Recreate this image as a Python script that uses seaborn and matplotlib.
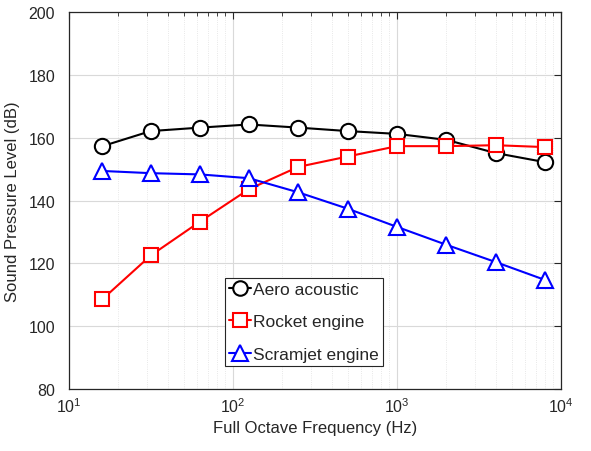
import matplotlib
matplotlib.use("Agg")
import matplotlib.pyplot as plt
import seaborn as sns
import numpy as np
from matplotlib.ticker import LogLocator, NullFormatter, MultipleLocator

freq = [16, 31.5, 63, 125, 250, 500, 1000, 2000, 4000, 8000]
aero = [157.3, 162.1, 163.2, 164.2, 163.2, 162.1, 161.2, 159.3, 155.1, 152.2]
rocket = [108.6, 122.5, 133.3, 143.6, 150.7, 154.0, 157.3, 157.3, 157.6, 157.0]
scramjet = [149.4, 148.7, 148.3, 147.1, 142.6, 137.4, 131.6, 125.9, 120.4, 114.7]

series = [
    ("Aero acoustic", aero, "black", "o", 11),
    ("Rocket engine", rocket, "red", "s", 10),
    ("Scramjet engine", scramjet, "blue", "^", 12),
]

sns.set_style("white")
plt.rcParams['font.family'] = ['Liberation Sans', 'DejaVu Sans']

fig = plt.figure(figsize=(5.91, 4.52), dpi=100)
ax = fig.add_axes([69/591, 62/452, 492/591, 377/452])

for name, vals, col, mk, ms in series:
    sns.lineplot(x=freq, y=vals, ax=ax, color=col, marker=mk, markersize=ms,
                 markerfacecolor="white", markeredgecolor=col, markeredgewidth=1.5,
                 linewidth=1.5, label=name)

ax.set_xscale("log")
ax.set_xlim(10, 1e4)
ax.set_ylim(80, 200)
ax.yaxis.set_major_locator(MultipleLocator(20))
ax.xaxis.set_major_locator(LogLocator(base=10, numticks=10))
ax.xaxis.set_minor_locator(LogLocator(base=10, subs=np.arange(2, 10), numticks=20))
ax.xaxis.set_minor_formatter(NullFormatter())

ax.grid(True, which="major", color="#d9d9d9", linewidth=0.8, linestyle="-")
ax.grid(True, which="minor", axis="x", color="#e0e0e0", linewidth=0.6, linestyle=":")
ax.set_axisbelow(True)

ax.tick_params(axis="both", which="both", direction="in", top=True, right=True,
               labelsize=11.5, colors="#262626")
ax.tick_params(which="major", length=5, width=0.8)
ax.tick_params(which="minor", length=3, width=0.6)
ax.tick_params(axis="y", which="major", pad=10)
ax.tick_params(axis="x", which="major", pad=5)
for s in ax.spines.values():
    s.set_color("#262626")
    s.set_linewidth(0.9)

ax.set_xlabel("Full Octave Frequency (Hz)", fontsize=12, color="#262626", labelpad=4)
ax.set_ylabel("Sound Pressure Level (dB)", fontsize=12, color="#262626", labelpad=6)

leg = ax.legend(loc="lower left", bbox_to_anchor=(0.317, 0.062), fontsize=12.5,
                handlelength=1.3, handletextpad=0.12, borderpad=0.22,
                labelspacing=1.0, fancybox=False, framealpha=1,
                edgecolor="#262626", borderaxespad=0, markerscale=0.95)
leg.get_frame().set_linewidth(0.8)

fig.savefig("out.png", dpi=100)
